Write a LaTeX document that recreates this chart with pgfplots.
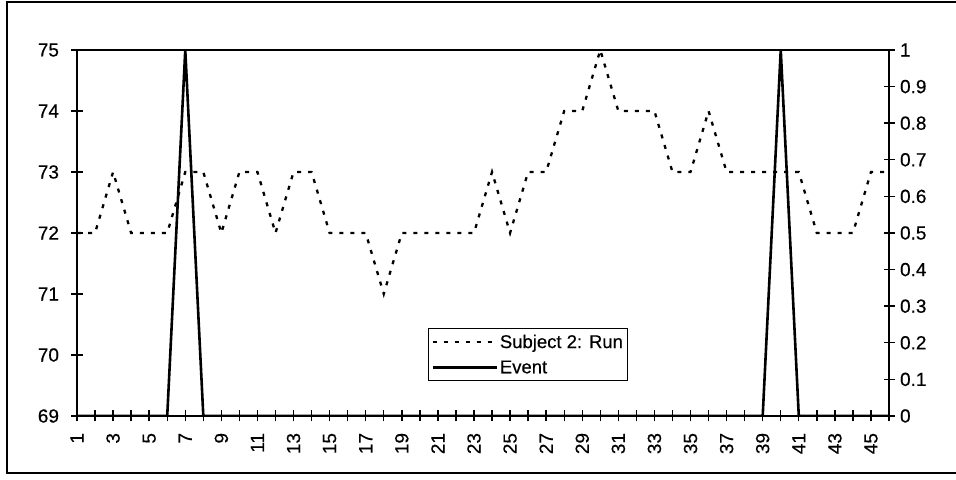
\documentclass[border=0pt]{standalone}
\usepackage{pgfplots}
\pgfplotsset{compat=1.18}
\usepackage{fontspec}
\setmainfont{Liberation Sans}[FakeBold=0.5]
\pgfplotstableread{
x y
1 72
2 72
3 73
4 72
5 72
6 72
7 73
8 73
9 72
10 73
11 73
12 72
13 73
14 73
15 72
16 72
17 72
18 71
19 72
20 72
21 72
22 72
23 72
24 73
25 72
26 73
27 73
28 74
29 74
30 75
31 74
32 74
33 74
34 73
35 73
36 74
37 73
38 73
39 73
40 73
41 73
42 72
43 72
44 72
45 73
46 73
}\runtable
\pgfplotstableread{
x e
1 0
2 0
3 0
4 0
5 0
6 0
7 1
8 0
9 0
10 0
11 0
12 0
13 0
14 0
15 0
16 0
17 0
18 0
19 0
20 0
21 0
22 0
23 0
24 0
25 0
26 0
27 0
28 0
29 0
30 0
31 0
32 0
33 0
34 0
35 0
36 0
37 0
38 0
39 0
40 1
41 0
42 0
43 0
44 0
45 0
46 0
}\eventtable
\begin{document}
\begin{tikzpicture}[x=1bp,y=1bp]
\useasboundingbox (0,0) rectangle (956,480);
\draw[line width=1.5bp] (956,478) -- (7,478) -- (7,7) -- (956,7);
\pgfplotsset{
  every axis/.append style={
    scale only axis, width=812bp, height=366bp,
    at={(77bp,64bp)}, anchor=south west,
    xmin=1, xmax=46,
    axis line style={line width=2.2bp},
    tick style={line width=1.4bp, black},
    major tick length=11bp,
    tick align=center,
    tick label style={font=\fontsize{19bp}{22bp}\selectfont\addfontfeatures{FakeBold=0.4}},
    /pgf/number format/assume math mode=true,
  }
}
\begin{axis}[
  ymin=69, ymax=75,
  ytick={69,70,...,75},
  xtick={1,...,46},
  xticklabels={1,,3,,5,,7,,9,,11,,13,,15,,17,,19,,21,,23,,25,,27,,29,,31,,33,,35,,37,,39,,41,,43,,45,},
  xtick pos=bottom, ytick pos=left,
  xticklabel style={rotate=90, anchor=east},
  xticklabel shift=8bp,
  yticklabel style={xshift=-9bp},
]
\addplot[black, line width=2.3bp, dash pattern=on 4bp off 7bp] table[x=x,y=y]{\runtable};
\end{axis}
\begin{axis}[
  ymin=0, ymax=1,
  ytick={0,0.1,...,1},
  axis y line*=right,
  axis x line=none,
  ytick pos=right,
  yticklabel style={xshift=2bp},
  legend cell align=left,
  legend style={at={(0.432,0.240)}, anchor=north west, draw=black, line width=1bp,
    font=\fontsize{18.5bp}{21bp}\selectfont\addfontfeatures{FakeBold=0.4}, inner xsep=3bp, inner ysep=4bp,
    row sep=7bp,
    nodes={inner sep=2bp}},
  legend image code/.code={\draw[#1] (0bp,0bp) -- (64bp,0bp);},
]
\addlegendimage{black, line width=2.3bp, dash pattern=on 4bp off 7bp}
\addlegendentry{Subject 2: Run}
\addplot[black, line width=2.6bp] table[x=x,y=e]{\eventtable};
\addlegendentry{Event}
\end{axis}
\end{tikzpicture}
\end{document}
